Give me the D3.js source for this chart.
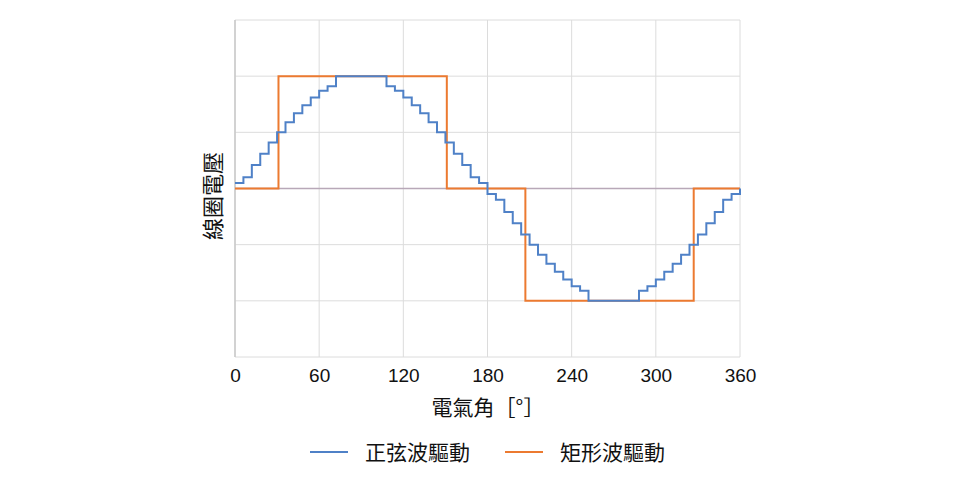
<!DOCTYPE html><html><head><meta charset="utf-8"><script src="https://cdn.jsdelivr.net/npm/d3@7"></script>
<style>body{margin:0;background:#fff}text{font-family:"Noto Sans CJK TC","Noto Sans",sans-serif}</style></head><body><svg width="960" height="480"></svg>
<script>
const xTicks=[0,60,120,180,240,300,360];
const yGrid=[-1.5,-1,-0.5,0,0.5,1,1.5];
const stepDeg=6;
const sineHalf=[0.05,0.10,0.21,0.31,0.41,0.50,0.59,0.67,0.74,0.81,0.87,0.91,1,1,1,1,1,1,0.91,0.87,0.81,0.74,0.67,0.59,0.50,0.41,0.31,0.21,0.10,0.05];
const sineLevels=sineHalf.concat(sineHalf.map(v=>-v));
const squareAngles=[0,31,151,207,327,360];
const squareLevels=[0,1,0,-1,0,0];
const seriesNames=["正弦波驅動","矩形波驅動"];
const colors=["#4f81c7","#ec7a30"];
const svg=d3.select("svg");
const x=d3.scaleLinear().domain([0,360]).range([235,740]);
const y=d3.scaleLinear().domain([-1.5,1.5]).range([357,20]);
svg.append("g").selectAll("line").data(xTicks).join("line").attr("x1",d=>x(d)).attr("x2",d=>x(d)).attr("y1",20).attr("y2",357).attr("stroke","#dcdcdc");
svg.append("g").selectAll("line").data(yGrid).join("line").attr("x1",235).attr("x2",740).attr("y1",d=>y(d)).attr("y2",d=>y(d)).attr("stroke",d=>d===0?"#b8a8b8":"#dcdcdc").attr("stroke-width",d=>d===0?1.5:1);
svg.append("line").attr("x1",235).attr("x2",235).attr("y1",20).attr("y2",357).attr("stroke","#c8c8c8").attr("stroke-width",1.5);
const ax=svg.append("g").attr("transform","translate(0,357)").call(d3.axisBottom(x).tickValues(xTicks).tickSize(0).tickPadding(12));
ax.select(".domain").remove();
ax.selectAll("text").attr("font-size",19).attr("fill","#111").style("font-family","Liberation Sans,Arial,sans-serif");
const sinePts=sineLevels.map((v,i)=>[i*stepDeg,v]);sinePts.push([360,0]);
const sqPts=squareAngles.map((a,i)=>[a,squareLevels[i]]);
const line=d3.line().x(d=>x(d[0])).y(d=>y(d[1])).curve(d3.curveStepAfter);
svg.append("path").attr("d",line(sqPts)).attr("fill","none").attr("stroke",colors[1]).attr("stroke-width",2);
svg.append("path").attr("d",line(sinePts)).attr("fill","none").attr("stroke",colors[0]).attr("stroke-width",2);
svg.append("text").attr("transform","translate(221,196) rotate(-90)").attr("text-anchor","middle").attr("font-size",22).attr("fill","#111").text("線圈電壓");
svg.append("text").attr("x",488).attr("y",415).attr("text-anchor","middle").attr("font-size",21).attr("fill","#111").text("電氣角［°］");
const lg=svg.append("g");
[[310,0],[505,1]].forEach(([lx,i])=>{
 lg.append("line").attr("x1",lx).attr("x2",lx+38).attr("y1",452).attr("y2",452).attr("stroke",colors[i]).attr("stroke-width",2);
 lg.append("text").attr("x",lx+55).attr("y",460).attr("font-size",21).attr("fill","#111").text(seriesNames[i]);
});
</script></body></html>
